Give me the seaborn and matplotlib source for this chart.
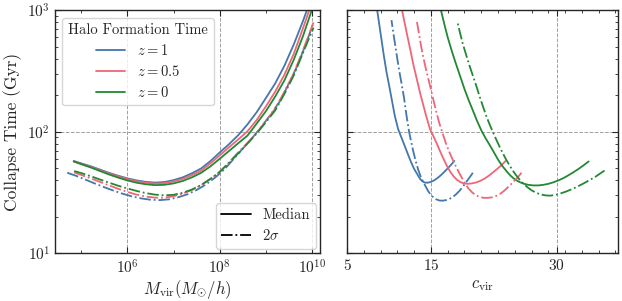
import numpy as np
import matplotlib
matplotlib.use("Agg")
import matplotlib.pyplot as plt
from matplotlib.ticker import AutoMinorLocator, NullFormatter
from matplotlib.lines import Line2D
import seaborn as sns

# colours per formation redshift
colors = {"1": "#4477AA", "0.5": "#EE6677", "0": "#228833"}
redshifts = ["1", "0.5", "0"]

# Left panel: log10(M_vir) and collapse time (Gyr), median curves
logm_med = [4.84, 5.0, 5.2, 5.4, 5.6, 5.8, 6.0, 6.2, 6.4, 6.6, 6.8, 7.0, 7.2, 7.4, 7.6, 7.8,
            8.0, 8.2, 8.4, 8.6, 8.8, 9.0, 9.2, 9.4, 9.6, 9.8, 10.0]
t_med_z1 = [57.5, 55.0, 52.2, 49.0, 46.0, 43.5, 41.4, 39.8, 38.7, 38.2, 38.6, 40.0, 42.2, 45.6, 50.0, 57.5,
            67.6, 79.0, 93.8, 115, 145, 190, 250, 350, 521, 813, 1318]
t_med_z05 = [57.0, 54.5, 51.6, 48.4, 45.4, 42.9, 40.8, 39.2, 38.1, 37.5, 37.8, 39.0, 41.0, 44.0, 48.0, 55.0,
             64.0, 74.5, 86.5, 101, 125, 162, 214, 295, 436, 708, 1175]
t_med_z0 = [57.0, 54.2, 51.0, 47.7, 44.6, 42.0, 39.8, 38.1, 37.0, 36.4, 36.6, 37.6, 39.4, 42.2, 46.0, 52.0,
            60.0, 69.5, 80.5, 93.0, 117, 148, 195, 265, 390, 610, 1025]

# 2 sigma curves
logm_2s_z1 = [4.70, 4.9, 5.1, 5.3, 5.5, 5.7, 5.9, 6.1, 6.3, 6.5, 6.7, 6.9, 7.1, 7.3, 7.5, 7.7,
              7.9, 8.1, 8.3, 8.5, 8.7, 8.9, 9.1, 9.3, 9.5, 9.7, 9.9, 10.03]
t_2s_z1 = [46.0, 43.3, 40.3, 37.5, 35.0, 32.8, 30.9, 29.4, 28.3, 27.6, 27.4, 27.8, 28.9, 30.6, 33.2, 36.8,
           42.0, 49.0, 59.7, 72.8, 88.7, 110, 138, 178, 251, 363, 575, 794]
logm_2s = [4.85, 5.0, 5.2, 5.4, 5.6, 5.8, 6.0, 6.2, 6.4, 6.6, 6.8, 7.0, 7.2, 7.4, 7.6, 7.8,
           8.0, 8.2, 8.4, 8.6, 8.8, 9.0, 9.2, 9.4, 9.6, 9.8, 10.03]
t_2s_z05 = [46.3, 44.2, 41.5, 38.8, 36.3, 34.0, 32.0, 30.4, 29.3, 28.7, 28.7, 29.5, 31.0, 33.2, 36.5, 41.0,
            46.8, 56.0, 67.6, 81.0, 98.0, 123, 155, 214, 302, 468, 794]
t_2s_z0 = [47.5, 45.8, 43.2, 40.6, 38.2, 36.0, 34.2, 32.6, 31.3, 30.4, 30.0, 30.3, 31.5, 33.5, 36.5, 41.0,
           46.8, 55.5, 66.5, 80.0, 97.0, 120, 150, 205, 290, 445, 720]

# Right panel: concentration c_vir vs collapse time (low mass -> high mass)
c_med_z1 = [17.8, 17.4, 17.0, 16.6, 16.2, 15.8, 15.4, 15.0, 14.6, 14.3, 14.0, 13.7, 13.4, 13.0,
            12.6, 12.2, 11.8, 11.4, 11.1, 10.7, 10.3, 10.0, 9.7, 9.4, 9.1, 8.85, 8.6, 8.4]
tc_med_z1 = [57.5, 53.5, 50.0, 46.8, 44.0, 41.7, 39.9, 38.7, 38.1, 38.2, 39.0, 41.0, 44.5, 49.5,
             57.0, 67.0, 79.0, 93.0, 105, 135, 190, 245, 313, 420, 580, 760, 1000, 1250]
c_med_z05 = [23.9, 23.4, 22.9, 22.4, 21.9, 21.4, 20.9, 20.4, 19.9, 19.4, 18.9, 18.5, 18.1, 17.7, 17.3,
             16.9, 16.5, 16.1, 15.7, 15.3, 14.9, 14.5, 14.1, 13.7, 13.3, 12.9, 12.5, 12.1, 11.7, 11.4]
tc_med_z05 = [57.5, 53.0, 49.5, 46.3, 43.5, 41.2, 39.5, 38.3, 37.6, 37.3, 37.6, 38.6, 40.3, 43.0, 47.0,
              52.5, 60.0, 69.0, 80.0, 92.0, 105, 130, 165, 210, 275, 360, 490, 660, 900, 1150]
c_med_z0 = [33.8, 33.2, 32.6, 32.0, 31.4, 30.8, 30.2, 29.6, 29.0, 28.4, 27.8, 27.2, 26.6, 26.0, 25.5,
            25.0, 24.5, 24.0, 23.5, 23.0, 22.5, 22.0, 21.5, 21.0, 20.5, 20.0, 19.5, 19.0, 18.5, 18.0,
            17.5, 17.0, 16.6, 16.2, 15.9]
tc_med_z0 = [57.0, 53.0, 49.5, 46.5, 43.9, 41.6, 39.8, 38.4, 37.3, 36.6, 36.2, 36.2, 36.6, 37.5, 38.8,
             40.6, 43.5, 47.5, 52.5, 59.0, 68.0, 78.0, 89.0, 103, 123, 150, 182, 225, 285, 360,
             460, 600, 770, 1000, 1250]

c_2s_z1 = [20.0, 19.6, 19.2, 18.8, 18.4, 18.0, 17.6, 17.2, 16.8, 16.4, 16.0, 15.6, 15.3, 15.0, 14.7,
           14.4, 14.1, 13.8, 13.5, 13.2, 12.9, 12.6, 12.4, 12.1, 11.8, 11.5, 11.2, 10.9, 10.6, 10.3]
tc_2s_z1 = [46.0, 42.0, 38.5, 35.3, 32.6, 30.6, 29.0, 28.0, 27.4, 27.1, 27.2, 27.9, 28.8, 30.3, 32.3,
            35.2, 38.5, 42.5, 48.5, 57.0, 69.0, 86.0, 100, 135, 190, 250, 325, 440, 600, 830]
c_2s_z05 = [25.8, 25.3, 24.8, 24.3, 23.8, 23.3, 22.8, 22.3, 21.8, 21.3, 20.8, 20.3, 19.9, 19.5, 19.1,
            18.8, 18.4, 18.0, 17.6, 17.2, 16.8, 16.4, 16.0, 15.6, 15.2, 14.8, 14.4, 14.0, 13.7, 13.3]
tc_2s_z05 = [46.0, 41.8, 38.6, 35.6, 33.0, 31.0, 29.7, 28.9, 28.6, 28.6, 29.1, 30.2, 31.8, 34.0, 37.2,
             40.5, 45.5, 51.5, 59.0, 68.0, 80.0, 97.0, 118, 150, 195, 255, 330, 440, 570, 833]
c_2s_z0 = [35.7, 35.2, 34.6, 33.9, 33.2, 32.5, 31.8, 31.1, 30.4, 29.8, 29.2, 28.6, 28.0, 27.5, 27.0,
           26.5, 26.0, 25.6, 25.2, 24.8, 24.4, 24.0, 23.6, 23.2, 22.8, 22.4, 22.0, 21.6, 21.2, 20.8,
           20.4, 20.0, 19.6, 19.2, 18.8, 18.5, 18.2]
tc_2s_z0 = [48.0, 45.5, 42.6, 40.0, 37.6, 35.5, 33.7, 32.2, 31.0, 30.2, 29.8, 30.0, 30.6, 31.6, 33.0,
            35.0, 37.6, 40.2, 43.5, 47.5, 52.5, 58.5, 66.0, 75.0, 86.0, 99.0, 115, 135, 162, 196,
            240, 290, 350, 430, 530, 640, 781]

left_curves = [
    ("1", "-", logm_med, t_med_z1), ("0.5", "-", logm_med, t_med_z05), ("0", "-", logm_med, t_med_z0),
    ("1", "-.", logm_2s_z1, t_2s_z1), ("0.5", "-.", logm_2s, t_2s_z05), ("0", "-.", logm_2s, t_2s_z0),
]
right_curves = [
    ("1", "-", c_med_z1, tc_med_z1), ("0.5", "-", c_med_z05, tc_med_z05), ("0", "-", c_med_z0, tc_med_z0),
    ("1", "-.", c_2s_z1, tc_2s_z1), ("0.5", "-.", c_2s_z05, tc_2s_z05), ("0", "-.", c_2s_z0, tc_2s_z0),
]

sns.set_style("ticks")
plt.rcParams.update({
    "font.family": "serif",
    "font.serif": ["cmr10"],
    "mathtext.fontset": "cm",
    "axes.formatter.use_mathtext": True,
    "axes.unicode_minus": False,
    "xtick.direction": "in",
    "ytick.direction": "in",
    "xtick.top": True,
    "ytick.right": True,
    "xtick.minor.visible": True,
    "ytick.minor.visible": True,
    "axes.linewidth": 1.0,
})

fig = plt.figure(figsize=(6.22, 3.01), dpi=100)
ax1 = fig.add_axes([55 / 622, 1 - 253.3 / 301, 265 / 622, 243 / 301])
ax2 = fig.add_axes([347 / 622, 1 - 253.3 / 301, 271 / 622, 243 / 301], sharey=ax1)

lw = 1.3
for z, ls, lm, t in left_curves:
    sns.lineplot(x=10 ** np.array(lm), y=t, ax=ax1, color=colors[z], linestyle=ls,
                 lw=lw, sort=False, estimator=None)
for z, ls, c, t in right_curves:
    sns.lineplot(x=c, y=t, ax=ax2, color=colors[z], linestyle=ls,
                 lw=lw, sort=False, estimator=None)

grid_kw = dict(color="#a0a0a0", linestyle="--", linewidth=0.7)

ax1.set_xscale("log")
ax1.set_yscale("log")
ax1.set_xlim(10 ** 4.435, 10 ** 10.17)
ax1.set_ylim(10, 1000)
ax1.set_xticks([1e6, 1e8, 1e10])
ax1.set_xticks([1e5, 1e7, 1e9], minor=True)
ax1.xaxis.set_minor_formatter(NullFormatter())
ax1.grid(True, which="major", **grid_kw)
ax1.set_xlabel(r"$M_{\mathrm{vir}}(M_{\odot}/h)$", fontsize=12, labelpad=1)
ax1.set_ylabel("Collapse Time (Gyr)", fontsize=12.5)
ax1.tick_params(which="both", labelsize=11)
ax1.tick_params(which="major", length=4)
ax1.tick_params(which="minor", length=2)

ax2.set_xlim(5, 37.3)
ax2.set_xticks([5, 15, 30])
ax2.xaxis.set_minor_locator(AutoMinorLocator(5))
ax2.grid(True, which="major", **grid_kw)
ax2.set_xlabel(r"$c_{\mathrm{vir}}$", fontsize=12, labelpad=3)
ax2.set_ylabel("")
ax2.tick_params(axis="y", which="both", labelleft=False)
ax2.tick_params(which="both", labelsize=11)
ax2.tick_params(which="major", length=4)
ax2.tick_params(which="minor", length=2)

# legends
z_handles = [Line2D([], [], color=colors[z], lw=lw) for z in redshifts]
z_labels = [r"$z = 1$", r"$z = 0.5$", r"$z = 0$"]
leg1 = ax1.legend(z_handles, z_labels, title="Halo Formation Time", loc="upper left",
                  fontsize=10.5, title_fontsize=10.5, borderaxespad=0.5, labelspacing=0.4)
ax1.add_artist(leg1)
s_handles = [Line2D([], [], color="black", lw=lw, linestyle="-"),
             Line2D([], [], color="black", lw=lw, linestyle="-.")]
ax1.legend(s_handles, ["Median", r"$2\sigma$"], loc="lower right", fontsize=10.5,
           borderaxespad=0.3, labelspacing=0.4)

fig.savefig("out.png", dpi=100)
